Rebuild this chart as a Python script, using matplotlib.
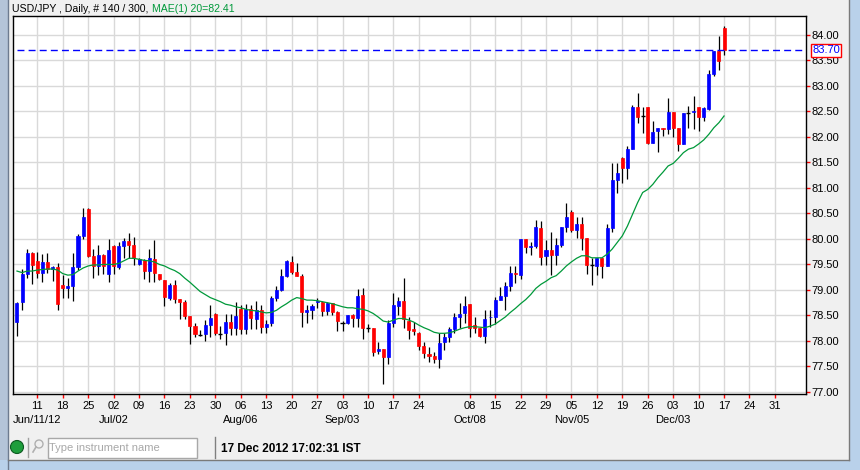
import matplotlib
matplotlib.use("Agg")
import matplotlib.pyplot as plt
import matplotlib.transforms as mtransforms
from matplotlib.patches import Rectangle, Circle
import numpy as np
import pandas as pd

plt.rcParams['font.family'] = ['Liberation Sans', 'DejaVu Sans']

# header / status texts
symbol_info = "USD/JPY , Daily, # 140 / 300, "
ma_info = "MAE(1) 20=82.41"
status_time = "17 Dec 2012 17:02:31 IST"
search_hint = "Type instrument name"
last_price = 83.70

# daily bars, USD/JPY
dates = pd.bdate_range("2012-06-05", "2012-12-17")
axis_days = pd.bdate_range("2012-06-05", "2012-12-31")
skip_ticks = [pd.Timestamp("2012-10-01")]

opens = [78.38, 78.77, 79.31, 79.72, 79.57, 79.34, 79.54, 79.41, 79.45, 79.09,
         79.04, 79.08, 79.45, 80.06, 80.58, 79.66, 79.47, 79.68, 79.32, 79.87,
         79.45, 79.87, 79.96, 79.88, 79.51, 79.58, 79.38, 79.60, 79.32, 79.19,
         78.85, 79.09, 78.82, 78.77, 78.48, 78.30, 78.12, 78.13, 78.32, 78.52,
         78.14, 78.15, 78.38, 78.25, 78.62, 78.23, 78.62, 78.44, 78.60, 78.27,
         78.35, 78.84, 79.00, 79.27, 79.54, 79.36, 79.27, 78.57, 78.60, 78.76,
         78.76, 78.58, 78.74, 78.57, 78.35, 78.35, 78.50, 78.45, 78.90, 78.25,
         78.26, 77.80, 77.84, 77.68, 78.36, 78.68, 78.79, 78.40, 78.23, 78.16,
         77.91, 77.75, 77.70, 77.65, 77.98, 78.08, 78.23, 78.47, 78.55, 78.72,
         78.31, 78.25, 78.10, 78.46, 78.47, 78.80, 78.88, 79.08, 79.34, 79.29,
         80.00, 79.85, 79.86, 80.22, 79.66, 79.78, 79.68, 79.88, 80.23, 80.53,
         80.17, 80.29, 80.01, 79.49, 79.47, 79.62, 79.47, 80.21, 81.15, 81.59,
         81.39, 81.76, 82.59, 82.40, 82.59, 81.89, 82.12, 82.17, 82.16, 82.49,
         82.18, 81.87, 82.46, 82.48, 82.58, 82.39, 82.54, 83.23, 83.69, 84.14]
highs = [78.76, 79.41, 79.80, 79.74, 79.74, 79.70, 79.73, 79.46, 79.52, 79.29,
         79.23, 79.73, 80.10, 80.60, 80.60, 79.80, 79.88, 79.70, 80.00, 79.89,
         79.94, 80.01, 80.12, 80.03, 79.62, 79.60, 79.81, 79.98, 79.32, 79.19,
         79.13, 79.19, 78.82, 78.81, 78.49, 78.35, 78.21, 78.42, 78.70, 78.55,
         78.30, 78.52, 78.52, 78.77, 78.70, 78.73, 78.71, 78.79, 78.70, 78.42,
         78.89, 79.07, 79.41, 79.58, 79.66, 79.53, 79.32, 78.70, 78.73, 78.85,
         78.79, 78.77, 78.75, 78.58, 78.40, 78.50, 78.53, 79.02, 79.03, 78.33,
         78.26, 77.97, 77.84, 78.41, 78.94, 78.87, 79.24, 78.47, 78.38, 78.18,
         77.97, 77.89, 77.79, 78.15, 78.15, 78.28, 78.55, 78.75, 78.88, 78.72,
         78.46, 78.25, 78.60, 78.60, 78.87, 79.06, 79.16, 79.47, 79.47, 80.00,
         80.00, 79.93, 80.38, 80.35, 79.98, 80.14, 80.01, 80.24, 80.70, 80.57,
         80.43, 80.43, 80.01, 79.62, 79.62, 79.63, 80.30, 81.48, 81.48, 81.61,
         81.82, 82.62, 82.86, 82.59, 82.59, 82.31, 82.17, 82.17, 82.76, 82.49,
         82.18, 82.46, 82.61, 82.80, 82.58, 82.58, 83.31, 83.69, 83.98, 84.18]
lows = [78.10, 78.60, 79.23, 79.11, 79.24, 79.16, 79.34, 79.17, 78.60, 78.85,
        78.85, 78.78, 79.40, 80.00, 79.64, 79.24, 79.29, 79.32, 79.15, 79.32,
        79.42, 79.62, 79.62, 79.49, 79.49, 79.21, 79.15, 79.16, 79.19, 78.69,
        78.81, 78.74, 78.44, 78.44, 77.94, 78.08, 78.09, 77.99, 78.08, 78.11,
        78.03, 77.92, 78.11, 78.11, 78.14, 78.13, 78.24, 78.24, 78.15, 78.15,
        78.30, 78.78, 78.98, 79.25, 79.32, 79.27, 78.27, 78.35, 78.43, 78.65,
        78.48, 78.50, 78.50, 78.19, 78.19, 78.34, 78.28, 78.28, 78.03, 78.18,
        77.71, 77.74, 77.15, 77.54, 78.28, 78.51, 78.26, 78.03, 78.11, 77.82,
        77.67, 77.58, 77.57, 77.46, 77.82, 77.98, 78.16, 78.25, 78.36, 78.08,
        78.15, 78.08, 77.96, 78.28, 78.34, 78.80, 78.60, 78.98, 79.14, 79.21,
        79.72, 79.68, 79.83, 79.49, 79.49, 79.29, 79.49, 79.85, 80.14, 80.14,
        80.01, 79.78, 79.32, 79.09, 79.29, 79.23, 79.47, 80.14, 80.91, 81.10,
        81.17, 81.76, 82.28, 82.07, 81.86, 81.89, 81.71, 82.01, 82.05, 81.99,
        81.73, 81.87, 82.18, 82.15, 82.12, 82.31, 82.53, 83.20, 83.31, 83.61]
closes = [78.75, 79.31, 79.72, 79.49, 79.34, 79.54, 79.42, 79.45, 78.72, 79.04,
          79.08, 79.45, 80.06, 80.42, 79.66, 79.47, 79.68, 79.46, 79.78, 79.47,
          79.87, 79.96, 79.88, 79.62, 79.60, 79.38, 79.62, 79.34, 79.21, 78.87,
          79.09, 78.83, 78.77, 78.49, 78.30, 78.13, 78.12, 78.32, 78.45, 78.15,
          78.14, 78.38, 78.25, 78.48, 78.23, 78.62, 78.45, 78.60, 78.27, 78.34,
          78.84, 79.00, 79.27, 79.56, 79.35, 79.27, 78.57, 78.60, 78.68, 78.79,
          78.58, 78.74, 78.57, 78.39, 78.35, 78.50, 78.45, 78.89, 78.25, 78.25,
          77.79, 77.84, 77.68, 78.36, 78.70, 78.78, 78.44, 78.21, 78.20, 77.91,
          77.77, 77.70, 77.65, 77.95, 78.08, 78.23, 78.47, 78.53, 78.68, 78.26,
          78.26, 78.09, 78.43, 78.47, 78.80, 78.88, 79.08, 79.34, 79.32, 80.00,
          79.85, 79.87, 80.23, 79.65, 79.78, 79.68, 79.88, 80.23, 80.43, 80.17,
          80.29, 80.01, 79.49, 79.49, 79.62, 79.47, 80.21, 81.15, 81.29, 81.39,
          81.76, 82.59, 82.39, 82.40, 81.89, 82.10, 82.17, 82.15, 82.49, 82.17,
          81.87, 82.46, 82.46, 82.51, 82.39, 82.56, 83.23, 83.69, 83.49, 83.70]

# moving average line as drawn on the chart
ma20 = [79.37, 79.34, 79.37, 79.37, 79.39, 79.40, 79.41, 79.41, 79.39, 79.32,
        79.29, 79.30, 79.37, 79.43, 79.47, 79.49, 79.49, 79.50, 79.50, 79.50,
        79.52, 79.57, 79.62, 79.62, 79.60, 79.58, 79.57, 79.55, 79.50, 79.47,
        79.42, 79.38, 79.32, 79.23, 79.15, 79.06, 78.97, 78.91, 78.85, 78.81,
        78.77, 78.72, 78.70, 78.67, 78.65, 78.62, 78.60, 78.59, 78.57, 78.55,
        78.56, 78.60, 78.67, 78.73, 78.80, 78.85, 78.83, 78.80, 78.80, 78.79,
        78.77, 78.75, 78.73, 78.70, 78.67, 78.65, 78.65, 78.63, 78.62, 78.59,
        78.54, 78.47, 78.39, 78.37, 78.41, 78.44, 78.44, 78.41, 78.37, 78.31,
        78.26, 78.22, 78.17, 78.15, 78.15, 78.16, 78.19, 78.23, 78.26, 78.28,
        78.28, 78.27, 78.26, 78.29, 78.33, 78.40, 78.47, 78.56, 78.64, 78.73,
        78.81, 78.91, 79.03, 79.11, 79.17, 79.24, 79.28, 79.37, 79.47, 79.55,
        79.62, 79.67, 79.67, 79.63, 79.63, 79.63, 79.70, 79.80, 79.93, 80.06,
        80.25, 80.48, 80.71, 80.91, 80.97, 81.07, 81.20, 81.31, 81.43, 81.48,
        81.58, 81.69, 81.76, 81.79, 81.86, 81.94, 82.05, 82.18, 82.28, 82.41]

o = np.array(opens)
h = np.array(highs)
l = np.array(lows)
c = np.array(closes)
x = np.arange(len(dates))

fig = plt.figure(figsize=(8.6, 4.7), dpi=100, facecolor='#f0f0f0')

# window chrome drawn in pixel coordinates
bg = fig.add_axes([0, 0, 1, 1], zorder=-5)
bg.set_xlim(0, 860)
bg.set_ylim(470, 0)
bg.axis('off')
bg.add_patch(Rectangle((0, 0), 8, 470, fc='#b4c4d8', ec='none'))
bg.plot([8, 8], [0, 470], color='#6d7b8f', lw=1)
bg.add_patch(Rectangle((849, 0), 11, 470, fc='#b9d1ea', ec='none'))
bg.plot([848.5, 848.5], [0, 460], color='#7a7a7a', lw=1)
bg.add_patch(Rectangle((0, 460), 860, 10, fc='#b9d1ea', ec='none'))
bg.plot([8, 849], [460, 460], color='#7a7a7a', lw=1)
bg.add_patch(Circle((17, 447), 6.5, fc='#1e9e3c', ec='#0c5a20', lw=0.8))
bg.plot([28, 28], [438, 457], color='#a0a0a0', lw=1)
bg.add_patch(Circle((39, 444), 4, fc='none', ec='#b0b0b0', lw=1))
bg.plot([33, 36], [452, 447], color='#b0b0b0', lw=1.2)
bg.add_patch(Rectangle((47.5, 437.5), 149, 20, fc='white', ec='#a8a8a8', lw=1))
bg.text(49, 448, search_hint, color='#a8a8a8', fontsize=8, va='center')
bg.plot([215, 215], [437, 458], color='#808080', lw=1)
bg.text(221, 448.5, status_time, fontsize=8.5, fontweight='bold', va='center')

# header line: instrument info and MA value
t1 = bg.text(12.5, 9, symbol_info, fontsize=7.6, va='center')
fig.canvas.draw()
ext = t1.get_window_extent()
bg.text(12.5 + ext.width, 9, ma_info, fontsize=7.6, va='center', color='#00993a')

ax = fig.add_axes([12.7 / 860, 1 - 394 / 470, 793.6 / 860, 378 / 470])
ax.set_facecolor('white')

# candles
ax.vlines(x, l, h, color='black', lw=0.9, zorder=2)
up = c > o
down = c < o
flat = c == o
ax.bar(x[up], (c - o)[up], bottom=o[up], width=0.6, color='#0000ff',
       edgecolor='#0000ff', lw=0.5, zorder=3)
ax.bar(x[down], (o - c)[down], bottom=c[down], width=0.6, color='#ff0000',
       edgecolor='#ff0000', lw=0.5, zorder=3)
ax.hlines(c[flat], x[flat] - 0.4, x[flat] + 0.4, color='black', lw=1, zorder=3)

ax.plot(x, ma20, color='#00993a', lw=0.9, zorder=4)

ax.axhline(last_price, xmin=4.5 / 793.6, color='#0000ff', lw=1,
           dashes=(5, 3), zorder=5)

ax.set_xlim(-0.84, 155.17)
ax.set_ylim(76.96, 84.37)

# x axis: monday ticks, day number plus month label for the first of each month
tick_idx = []
tick_lbl = []
month_lbl = []
seen = set()
for i, d in enumerate(axis_days):
    if d.weekday() != 0 or d in skip_ticks:
        continue
    tick_idx.append(i)
    tick_lbl.append(d.strftime('%d'))
    if d.month not in seen:
        fmt = '%b/%d/%y' if not seen else '%b/%d'
        month_lbl.append((i, d.strftime(fmt)))
        seen.add(d.month)

ax.set_xticks(tick_idx)
ax.set_xticklabels(tick_lbl)
trans = mtransforms.blended_transform_factory(ax.transData, ax.transAxes)
for i, s in month_lbl:
    ax.text(i, -0.069, s, transform=trans, ha='center', va='center', fontsize=8)

ax.set_yticks(np.arange(77, 84.01, 0.5))
ax.yaxis.set_major_formatter(matplotlib.ticker.FormatStrFormatter('%.2f'))
ax.yaxis.tick_right()
ax.tick_params(axis='both', color='red', labelcolor='black', length=3,
               width=1, direction='out', labelsize=8)
ax.tick_params(axis='y', pad=1)
ax.tick_params(axis='x', pad=2)
ax.grid(color='#d9d9d9', lw=1)
ax.set_axisbelow(True)
for sp in ax.spines.values():
    sp.set_color('black')
    sp.set_linewidth(1)

ytrans = mtransforms.blended_transform_factory(ax.transAxes, ax.transData)
ax.text(1.0075, last_price, f'{last_price:.2f}', transform=ytrans, color='#0000ff',
        fontsize=8, va='center', ha='left', zorder=6,
        bbox=dict(fc='white', ec='red', lw=1, pad=1))

fig.savefig('out.png', dpi=100, facecolor=fig.get_facecolor())
